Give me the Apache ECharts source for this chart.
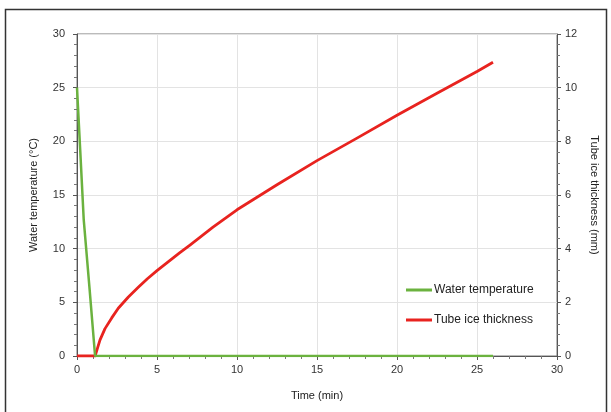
<!DOCTYPE html>
<html>
<head>
<meta charset="utf-8">
<script src="https://cdn.jsdelivr.net/npm/echarts@6/dist/echarts.min.js"></script>
<style>
  html, body { margin: 0; padding: 0; background: #fff; }
  #chart { width: 611px; height: 412px; }
</style>
</head>
<body>
<div id="chart"></div>
<script>
// time (min), water temperature (°C)
const waterTime = [0, 0.2, 0.42, 0.8, 1.13, 26];
const waterTemp = [25, 19.2, 12.7, 6.0, 0, 0];

// time (min), tube ice thickness (mm)
const iceTime = [0, 1.13, 1.3, 1.44, 1.75, 2.17, 2.58, 3.21, 3.83, 4.4, 5, 6.43, 7.06, 8.5, 10, 12.5, 15, 17.5, 20, 22.5, 25, 26];
const iceThick = [0, 0, 0.33, 0.6, 1.02, 1.42, 1.78, 2.2, 2.56, 2.88, 3.18, 3.85, 4.13, 4.8, 5.45, 6.38, 7.28, 8.12, 8.97, 9.79, 10.6, 10.95];

const seriesNames = ['Water temperature', 'Tube ice thickness'];

const font = 'Liberation Sans, Arial, sans-serif';
const chart = echarts.init(document.getElementById('chart'));

const pairs = (xs, ys) => xs.map((x, i) => [x, ys[i]]);

chart.setOption({
    animation: false,
    textStyle: { fontFamily: font },
    graphic: [{
        type: 'rect',
        shape: { x: 5.5, y: 9.5, width: 601, height: 420 },
        style: { fill: 'none', stroke: '#333', lineWidth: 1.5 },
        silent: true
    }],
    grid: {
        left: 77, right: 54, top: 34, bottom: 56,
        show: true, borderColor: '#777', borderWidth: 1
    },
    legend: {
        orient: 'vertical',
        left: 401, top: 279,
        itemGap: 18,
        icon: 'rect',
        itemWidth: 26, itemHeight: 3,
        textStyle: { fontSize: 12, color: '#222', fontFamily: font, padding: [0, 0, 0, -3] },
        data: seriesNames
    },
    xAxis: {
        type: 'value',
        min: 0, max: 30, interval: 5,
        name: 'Time (min)',
        nameLocation: 'middle',
        nameGap: 34,
        nameTextStyle: { fontSize: 11, color: '#222' },
        axisLine: { lineStyle: { color: '#555' } },
        axisTick: { length: 4, lineStyle: { color: '#555' } },
        minorTick: { show: true, splitNumber: 5, length: 3, lineStyle: { color: '#777' } },
        axisLabel: { fontSize: 11, color: '#333', margin: 8 },
        splitLine: { lineStyle: { color: '#e3e3e3' } }
    },
    yAxis: [{
        type: 'value',
        min: 0, max: 30, interval: 5,
        name: 'Water temperature (°C)',
        nameLocation: 'middle',
        nameGap: 38,
        nameTextStyle: { fontSize: 11, color: '#222' },
        axisLine: { show: true, lineStyle: { color: '#555' } },
        axisTick: { show: true, length: 4, lineStyle: { color: '#555' } },
        minorTick: { show: true, splitNumber: 5, length: 3, lineStyle: { color: '#777' } },
        axisLabel: { fontSize: 11, color: '#333', margin: 12 },
        splitLine: { lineStyle: { color: '#e3e3e3' } }
    }, {
        type: 'value',
        position: 'right',
        min: 0, max: 12, interval: 2,
        name: 'Tube ice thickness (mm)',
        nameLocation: 'middle',
        nameRotate: -90,
        nameGap: 31,
        nameTextStyle: { fontSize: 11, color: '#222' },
        axisLine: { show: true, lineStyle: { color: '#555' } },
        axisTick: { show: true, length: 4, lineStyle: { color: '#555' } },
        minorTick: { show: true, splitNumber: 5, length: 3, lineStyle: { color: '#777' } },
        axisLabel: { fontSize: 11, color: '#333', margin: 8 },
        splitLine: { show: false }
    }],
    series: [{
        name: seriesNames[0],
        type: 'line',
        yAxisIndex: 0,
        symbol: 'none',
        color: '#6bb23f',
        lineStyle: { width: 2.5, color: '#6bb23f' },
        data: pairs(waterTime, waterTemp),
        z: 3
    }, {
        name: seriesNames[1],
        type: 'line',
        yAxisIndex: 1,
        symbol: 'none',
        color: '#e8231f',
        lineStyle: { width: 2.8, color: '#e8231f', join: 'round' },
        data: pairs(iceTime, iceThick),
        z: 2
    }]
});
</script>
</body>
</html>
